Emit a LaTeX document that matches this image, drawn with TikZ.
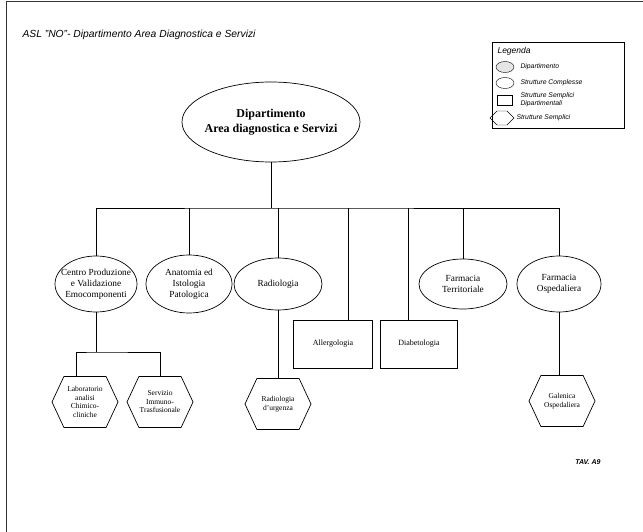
\documentclass[tikz,border=0pt]{standalone}
\usepackage{fontspec}
\setmainfont{Liberation Serif}
\setsansfont{Liberation Sans}
\usetikzlibrary{shapes.geometric, shapes.symbols, positioning}

\begin{document}
\begin{tikzpicture}[x=1pt, y=-1pt, on grid,
    every node/.style={align=center},
    link/.style={draw, line width=0.6pt},
    dept/.style={ellipse, draw, line width=0.7pt, minimum width=178pt, minimum height=80pt,
      inner sep=-30pt, font=\bfseries\fontsize{12}{14.5}\selectfont},
    complex/.style={ellipse, draw, line width=0.7pt, minimum width=86pt, minimum height=56pt,
      inner sep=-18pt, font=\fontsize{9.3}{11}\selectfont},
    simpledep/.style={rectangle, draw, line width=0.7pt, minimum width=79pt, minimum height=48pt,
      font=\fontsize{8}{9.5}\selectfont},
    simple/.style={signal, signal to=east and west, signal pointer angle=130, draw, line width=0.7pt,
      minimum width=66pt, minimum height=51pt, inner sep=-4pt, font=\fontsize{7.5}{8.5}\selectfont},
    legtext/.style={anchor=west, align=left, font=\sffamily\itshape\fontsize{6.8}{7.8}\selectfont}]

  \useasboundingbox (0,0) rectangle (643,532);

% sheet frame and title
  \draw[line width=0.6pt, black!80] (6,532) -- (6,1.5) -- (643,1.5);
  \node[anchor=west, font=\sffamily\itshape\fontsize{10.3}{12}\selectfont] (title) at (19,35)
{ASL "NO"- Dipartimento Area Diagnostica e Servizi};

% legend
  \node[draw, line width=0.6pt, minimum width=132pt, minimum height=86pt, anchor=north west] (leg) at (492,42) {};
  \node[legtext, font=\sffamily\itshape\fontsize{8.5}{10}\selectfont] (legt) at (494,51) {Legenda};
  \node[ellipse, draw, fill=gray!20, minimum width=18pt, minimum height=11pt, inner sep=0pt] (lgd) at (505,67) {};
  \node[legtext] (lgdt) at (517,67) {Dipartimento};
  \node[ellipse, draw, minimum width=18pt, minimum height=11pt, inner sep=0pt] (lgc) at (505,83) {};
  \node[legtext] (lgct) at (517,83) {Strutture Complesse};
  \node[rectangle, draw, minimum width=15pt, minimum height=10pt, inner sep=0pt] (lgs) at (505,100) {};
  \node[legtext] (lgst) at (517,100) {Strutture Semplici\\Dipartimentali};
  \node[signal, signal to=east and west, draw, minimum width=24pt, minimum height=14pt, inner sep=0pt] (lgh) at (502,118) {};
  \node[legtext] (lght) at (513,118) {Strutture Semplici};

% define the structures
  \node[dept] (dip) at (271,122)
{Dipartimento\\Area diagnostica e Servizi};

  \node[complex, minimum width=82pt] (cpv) at (96,284)
{Centro Produzione\\e Validazione\\Emocomponenti};
  \node[complex, minimum width=86pt, minimum height=58pt] (ana) [right=93pt of cpv]
{Anatomia ed\\Istologia\\Patologica};
  \node[complex, minimum width=88pt, minimum height=52pt] (rad) [right=89pt of ana]
{Radiologia};
  \node[complex, minimum width=88pt, minimum height=50pt] (ft) [right=185pt of rad]
{Farmacia\\Territoriale};
  \node[complex, minimum width=84pt] (fo) [right=96pt of ft]
{Farmacia\\Ospedaliera};

  \node[simpledep] (all) [below right=60pt and 55pt of rad]
{Allergologia};
  \node[simpledep, minimum width=77pt] (dia) [right=86pt of all]
{Diabetologia};

  \node[simple] (lab) [below left=118pt and 11pt of cpv]
{Laboratorio\\analisi\\Chimico-\\cliniche};
  \node[simple] (serv) [right=75pt of lab]
{Servizio\\Immuno-\\Trasfusionale};
  \node[simple] (radu) [below=120pt of rad]
{Radiologia\\d'urgenza};
  \node[simple] (gal) [below right=117pt and 3pt of fo]
{Galenica\\Ospedaliera};

  \node[font=\sffamily\itshape\bfseries\fontsize{7}{8}\selectfont] (tav) at (588,462) {TAV. A9};

% define the links
  \coordinate (bus) at (271,208);
  \coordinate[below=68pt of cpv] (sub);
  \draw[link] (dip.south) -- (dip.south |- bus);
  \draw[link] (cpv.north) |- (bus) -| (fo.north);
  \draw[link] (ana.north) -- (ana.north |- bus);
  \draw[link] (rad.north) -- (rad.north |- bus);
  \draw[link] ([xshift=15pt]all.north) -- ([xshift=15pt]all.north |- bus);
  \draw[link] ([xshift=-11pt]dia.north) -- ([xshift=-11pt]dia.north |- bus);
  \draw[link] (ft.north) -- (ft.north |- bus);
  \draw[link] (cpv.south) -- (sub);
  \draw[link] ([xshift=-9pt]lab.north) |- (sub) -| (serv.north);
  \draw[link] (rad.south) -- (radu.north);
  \draw[link] (fo.south) -- (fo.south |- gal.north);

\end{tikzpicture}
\end{document}
